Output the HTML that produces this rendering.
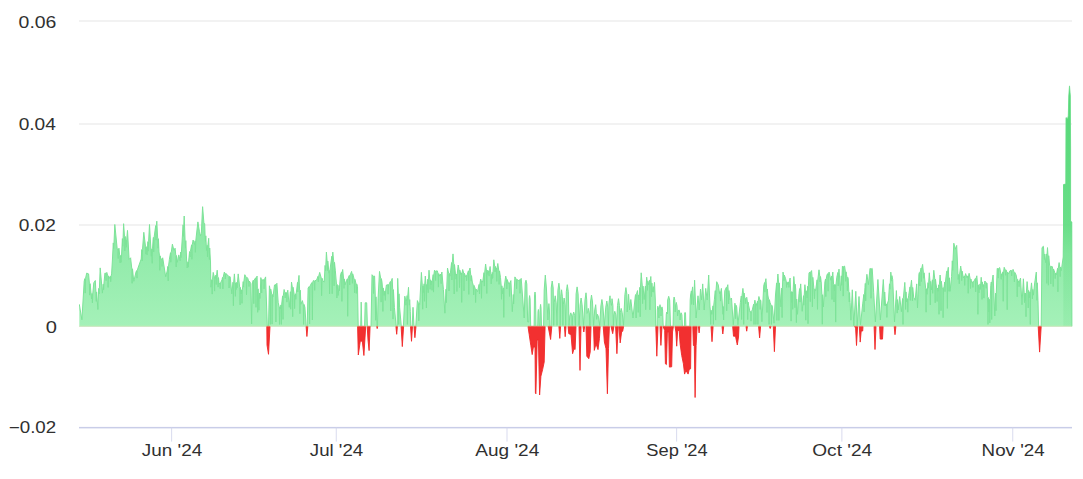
<!DOCTYPE html>
<html><head><meta charset="utf-8"><title>Chart</title>
<style>html,body{margin:0;padding:0;background:#fff}body{width:1083px;height:479px;overflow:hidden;font-family:"Liberation Sans",sans-serif}svg{display:block}</style>
</head><body>
<svg width="1083" height="479" viewBox="0 0 1083 479">
<defs>
<linearGradient id="gg" x1="0" y1="85" x2="0" y2="326.4" gradientUnits="userSpaceOnUse">
<stop offset="0" stop-color="#4fd873" stop-opacity="0.9"/>
<stop offset="0.55" stop-color="#7ce69a" stop-opacity="0.9"/>
<stop offset="1" stop-color="#a0f0b5" stop-opacity="0.95"/>
</linearGradient>
<linearGradient id="sp" x1="0" y1="85" x2="0" y2="326" gradientUnits="userSpaceOnUse">
<stop offset="0" stop-color="#48d46c" stop-opacity="0.55"/>
<stop offset="0.58" stop-color="#48d46c" stop-opacity="0.5"/>
<stop offset="0.7" stop-color="#48d46c" stop-opacity="0.26"/>
<stop offset="1" stop-color="#48d46c" stop-opacity="0.12"/>
</linearGradient>
<clipPath id="up"><rect x="79" y="0" width="994" height="326.9"/></clipPath>
</defs>
<rect width="1083" height="479" fill="#fff"/>
<rect x="79" y="20.5" width="993" height="1" fill="#e6e6e6"/>
<rect x="79" y="123.5" width="993" height="1" fill="#e6e6e6"/>
<rect x="79" y="224.5" width="993" height="1" fill="#e6e6e6"/>
<rect x="79" y="326" width="993" height="1" fill="#e6e6e6"/>
<g clip-path="url(#up)"><path d="M79.3,326.4 L79.3,304.3 81.9,319.8 84.2,281.3 84.8,278.6 85.2,293.1 85.5,278.6 86.7,273.1 88.6,273.9 89.4,283.6 89.7,295.1 90.1,283.6 91.6,299.0 92.1,293.4 92.4,302.9 92.8,293.4 93.8,282.8 95.3,280.5 95.9,291.9 96.3,301.4 96.6,291.9 97.9,309.5 98.7,288.4 99.1,293.9 99.4,288.4 100.2,267.9 102.4,293.1 103.2,284.2 103.6,289.7 103.9,284.2 104.9,273.1 105.7,273.2 106.1,280.7 106.4,273.2 106.8,272.4 107.8,275.9 108.1,287.4 108.5,275.9 109.4,278.3 110.4,276.2 110.7,281.7 111.1,276.2 111.6,273.9 112.3,262.0 113.3,242.9 113.6,248.4 114.0,242.9 114.8,224.5 117.2,248.9 117.8,249.0 118.2,258.5 118.5,249.0 119.0,248.2 119.7,255.4 120.1,262.9 120.4,255.4 121.2,262.3 122.4,238.6 122.7,246.1 123.1,238.6 123.6,223.7 124.5,236.4 124.8,250.9 125.2,236.4 125.7,244.5 126.0,239.7 126.4,247.2 126.7,239.7 127.5,230.4 129.1,259.3 130.6,257.8 131.8,268.8 132.1,283.3 132.5,268.8 133.1,275.0 133.8,281.3 136.0,272.0 136.6,270.6 137.0,278.1 137.3,270.6 138.0,268.0 141.2,259.0 141.8,249.5 142.2,261.0 142.5,249.5 143.8,232.3 145.5,246.6 145.9,254.1 146.2,246.6 147.2,254.9 147.9,241.6 148.2,251.1 148.6,241.6 149.5,224.5 151.3,256.3 151.8,248.8 152.2,263.3 152.5,248.8 153.1,240.0 153.4,237.4 153.7,251.9 154.1,237.4 155.7,225.6 156.0,240.1 156.4,225.6 156.8,221.2 157.7,238.7 158.0,248.2 158.4,238.7 159.0,251.9 159.5,255.8 159.8,270.3 160.2,255.8 160.8,259.3 161.7,258.9 162.0,266.4 162.4,258.9 162.7,257.8 165.7,276.8 167.2,271.0 167.8,266.4 168.2,280.9 168.5,266.4 169.4,259.3 170.5,252.7 170.8,262.2 171.2,252.7 172.4,244.2 173.9,250.4 175.1,248.2 175.8,255.5 176.2,267.0 176.5,255.5 177.3,262.3 178.8,254.9 180.2,260.8 180.7,252.1 181.0,257.6 181.4,252.1 183.1,224.8 183.5,236.3 183.8,224.8 184.2,216.0 185.1,240.6 185.5,248.1 185.8,240.6 186.9,266.7 187.2,267.9 187.9,261.7 188.2,267.2 188.6,261.7 189.4,253.4 189.7,251.5 190.1,257.0 190.4,251.5 191.6,244.8 191.9,259.3 192.3,244.8 193.1,240.0 194.6,244.5 195.1,240.8 195.4,252.3 195.8,240.8 196.3,236.0 197.9,221.9 199.4,231.3 200.5,235.8 201.3,233.6 202.6,206.7 203.9,223.0 204.7,223.7 205.1,235.8 205.5,241.3 205.8,235.8 206.5,250.4 207.2,245.3 207.5,256.8 207.9,245.3 208.7,238.3 209.0,248.0 209.4,259.5 209.7,248.0 210.5,262.0 210.9,287.2 211.8,279.6 212.2,294.1 212.5,279.6 213.2,272.4 214.2,276.6 214.6,291.1 214.9,276.6 215.4,278.3 215.9,275.0 216.2,284.5 216.6,275.0 217.2,270.2 217.8,277.6 218.1,287.1 218.5,277.6 219.1,284.2 219.8,283.1 220.2,288.6 220.5,283.1 222.0,279.8 222.5,277.4 222.9,288.9 223.2,277.4 224.3,272.1 225.0,273.5 225.3,279.0 225.7,273.5 227.2,274.6 228.8,276.5 229.1,288.0 229.5,276.5 230.2,276.8 231.8,293.9 233.0,282.2 233.4,305.7 233.7,282.2 234.4,273.9 235.0,282.8 235.4,296.3 235.7,282.8 236.2,289.5 236.8,282.3 237.2,287.8 237.5,282.3 238.2,273.9 239.7,287.4 240.1,304.9 240.4,287.4 241.1,294.0 241.7,289.8 242.0,303.3 242.4,289.8 243.2,281.6 243.6,287.1 243.9,281.6 244.8,274.7 246.2,277.3 246.5,294.8 246.9,277.3 247.8,278.4 248.6,281.0 249.0,286.5 249.3,281.0 250.8,283.6 251.6,324.0 252.3,284.0 253.0,280.6 253.4,280.2 253.8,303.7 254.1,280.2 255.6,277.8 256.0,307.3 256.3,277.8 257.1,276.1 257.4,288.8 257.7,312.3 258.1,288.8 258.9,310.2 259.6,293.0 259.9,298.5 260.3,293.0 260.8,277.6 261.3,279.4 261.7,292.9 262.0,279.4 262.9,280.6 263.8,279.4 264.1,288.9 264.5,279.4 265.6,276.9 267.3,326.4 268.5,326.4 269.4,285.8 270.0,289.1 270.3,324.4 270.7,289.1 271.8,294.6 272.1,324.1 272.5,294.6 273.0,296.9 274.5,285.0 275.6,284.5 275.9,322.0 276.3,284.5 276.9,283.3 278.2,302.8 279.2,306.9 279.5,324.4 279.9,306.9 280.4,308.8 280.9,304.9 281.3,324.4 281.6,304.9 282.6,295.9 283.0,319.4 283.3,295.9 284.1,289.5 284.8,292.5 285.2,298.0 285.5,292.5 286.0,293.9 286.5,292.6 286.9,302.1 287.2,292.6 287.8,290.2 289.3,307.3 290.4,291.7 290.7,309.2 291.1,291.7 291.5,282.1 292.3,287.2 292.7,316.7 293.0,287.2 294.3,295.1 294.6,308.6 295.0,295.1 295.2,296.9 295.5,293.8 295.8,299.3 296.2,293.8 297.5,282.4 297.8,291.9 298.2,282.4 299.0,275.4 299.6,290.2 299.9,313.7 300.3,290.2 300.9,304.3 302.4,300.6 303.3,304.4 303.6,324.4 304.0,304.4 304.9,307.3 306.2,326.4 307.2,326.4 308.1,288.0 309.2,286.5 309.6,324.0 309.9,286.5 310.8,284.3 312.0,282.5 312.4,320.0 312.7,282.5 313.3,280.6 314.3,280.8 314.7,290.3 315.0,280.8 316.7,279.8 318.0,276.3 318.3,281.8 318.7,276.3 319.7,272.4 321.3,278.2 321.6,295.7 322.0,278.2 322.7,280.6 324.2,282.0 325.1,265.4 325.5,270.9 325.8,265.4 326.4,252.1 327.1,261.1 327.4,270.6 327.8,261.1 329.0,273.2 329.2,270.4 329.6,293.9 329.9,270.4 331.8,256.2 332.2,293.7 332.5,256.2 332.8,252.1 333.8,262.3 334.1,285.8 334.5,262.3 335.3,270.2 336.5,284.5 336.9,298.0 337.2,284.5 338.2,295.4 339.0,285.3 339.4,290.8 339.7,285.3 340.5,274.7 341.6,271.9 341.9,301.4 342.3,271.9 342.7,269.5 343.6,278.9 344.0,288.4 344.3,278.9 344.9,285.0 346.4,280.6 347.4,278.8 347.7,316.3 348.1,278.8 348.6,276.9 349.3,275.4 349.7,284.9 350.0,275.4 351.6,271.4 352.0,273.8 352.4,283.3 352.7,273.8 354.2,279.3 354.6,292.8 354.9,279.3 355.3,280.6 356.0,283.9 356.3,293.4 356.7,283.9 357.5,286.5 358.2,326.4 360.7,326.4 361.2,302.1 361.8,326.4 364.6,326.4 365.2,302.8 366.7,302.8 367.4,326.4 371.0,326.4 372.0,274.7 373.1,276.0 373.5,293.5 373.8,276.0 374.6,276.1 375.3,296.8 375.7,320.3 376.0,296.8 376.4,310.0 377.0,326.4 377.5,326.4 378.0,300.0 379.5,271.4 380.7,278.6 381.1,302.1 381.4,278.6 382.0,282.1 382.5,287.9 382.9,311.4 383.2,287.9 384.2,295.4 384.9,290.9 385.3,300.4 385.6,290.9 386.4,285.0 387.8,284.7 388.1,294.2 388.5,284.7 389.4,283.6 390.4,281.5 390.8,311.0 391.1,281.5 392.2,278.4 392.7,289.6 393.0,319.1 393.4,289.6 394.4,307.3 396.2,326.4 397.2,326.4 397.7,278.4 398.3,293.8 398.7,324.4 399.0,293.8 399.6,307.3 401.3,326.4 403.4,326.4 404.8,296.2 405.6,299.7 405.9,305.2 406.3,299.7 406.6,301.0 407.1,295.6 407.4,324.4 407.8,295.6 408.5,287.3 409.0,299.6 409.4,305.1 409.7,299.6 410.3,311.7 410.8,326.4 412.2,326.4 413.0,307.3 414.0,326.4 415.8,326.4 417.4,300.6 418.5,303.4 418.8,320.9 419.2,303.4 419.7,304.3 421.4,272.4 422.3,285.7 422.7,309.2 423.0,285.7 423.4,292.4 424.1,283.8 424.5,301.3 424.8,283.8 425.3,276.1 426.0,284.5 426.4,308.0 426.7,284.5 427.1,289.5 427.8,279.2 428.2,292.7 428.5,279.2 429.0,270.2 429.8,279.8 430.1,289.3 430.5,279.8 430.8,285.0 431.6,280.8 432.0,290.3 432.3,280.8 433.2,274.6 433.5,292.1 433.9,274.6 434.5,270.2 435.2,271.0 435.6,280.5 435.9,271.0 437.4,270.9 438.0,273.6 438.4,287.1 438.7,273.6 439.7,276.1 440.7,274.1 441.1,283.6 441.4,274.1 441.9,272.0 443.4,289.5 444.9,313.2 446.0,289.2 446.3,302.7 446.7,289.2 447.5,268.0 448.7,273.5 449.0,291.0 449.4,273.5 450.0,276.1 451.6,262.5 451.9,280.0 452.3,262.5 453.0,253.9 453.8,264.5 454.2,294.0 454.5,264.5 456.0,279.1 456.5,274.0 456.9,291.5 457.2,274.0 458.2,265.0 459.1,270.1 459.5,287.6 459.8,270.1 460.9,274.7 461.4,272.9 461.7,302.4 462.1,272.9 462.7,269.5 463.7,273.3 464.0,290.8 464.4,273.3 465.6,276.9 466.3,275.3 466.6,280.8 467.0,275.3 468.4,270.9 468.8,294.4 469.1,270.9 470.0,268.0 470.8,275.6 471.2,281.1 471.5,275.6 472.3,282.1 473.3,285.4 473.7,294.9 474.0,285.4 474.5,286.5 475.3,289.0 475.6,302.5 476.0,289.0 477.5,291.7 479.1,284.4 479.5,293.9 479.8,284.4 480.7,279.1 481.1,280.8 481.5,298.3 481.8,280.8 482.7,282.1 484.0,272.6 484.3,286.1 484.7,272.6 485.6,264.0 486.4,270.0 486.8,293.5 487.1,270.0 487.9,274.7 488.8,270.6 489.1,276.1 489.5,270.6 490.1,266.5 490.9,274.4 491.2,283.9 491.6,274.4 492.0,279.1 492.3,272.4 492.7,277.9 493.0,272.4 493.8,259.8 494.7,266.4 495.1,271.9 495.4,266.4 496.0,270.2 496.4,267.9 496.8,281.4 497.1,267.9 497.8,263.5 498.8,270.9 499.1,284.4 499.5,270.9 500.5,277.6 501.2,285.8 501.5,299.3 501.9,285.8 502.7,293.9 503.4,287.9 503.8,317.4 504.1,287.9 505.7,276.1 506.5,279.5 506.8,289.0 507.2,279.5 508.6,283.6 509.2,282.9 509.5,296.4 509.9,282.9 510.9,280.6 512.3,311.7 513.3,294.5 513.6,304.0 514.0,294.5 514.9,276.9 516.3,279.3 516.6,288.8 517.0,279.3 518.3,280.6 519.7,279.8 520.0,293.3 520.4,279.8 521.2,278.4 524.2,318.0 525.2,283.0 526.0,280.2 526.8,284.0 527.7,322.0 528.7,322.0 529.2,299.0 529.6,295.6 530.1,299.0 530.7,326.4 534.1,326.4 534.5,296.0 535.0,292.0 535.5,296.0 536.0,326.4 537.7,326.4 538.0,312.0 538.4,309.5 538.8,312.0 539.3,326.4 539.8,326.4 540.2,308.0 540.6,304.4 541.0,308.0 541.5,326.4 543.6,326.4 544.2,290.0 545.3,275.1 546.4,288.0 547.2,305.0 547.9,320.0 548.4,310.0 548.9,303.6 549.4,310.0 550.0,326.4 551.2,326.4 551.2,288.0 552.2,281.0 553.2,288.0 553.7,325.5 554.2,302.8 555.2,295.8 556.2,302.8 557.0,325.5 557.9,290.2 558.9,283.2 559.8,290.2 560.2,325.5 560.7,296.8 561.6,289.8 562.4,296.8 562.9,325.5 563.3,304.9 564.1,298.0 565.1,304.9 565.7,325.5 566.3,291.7 567.3,284.7 568.3,291.7 569.0,325.5 569.8,316.0 570.8,312.8 571.8,316.0 572.2,325.5 572.7,315.5 573.7,312.1 574.7,315.5 575.4,325.5 576.1,293.9 577.1,286.9 578.1,293.9 579.1,325.5 580.1,304.9 581.1,298.0 582.1,304.9 583.5,325.5 585.0,299.8 586.0,292.8 586.7,299.8 587.1,313.4 587.6,312.7 588.3,308.4 589.3,312.7 589.9,325.5 590.5,302.0 591.5,295.0 592.5,302.0 593.6,325.5 594.7,309.9 595.7,304.7 596.1,309.9 596.6,319.3 597.1,317.1 597.5,314.3 598.5,317.1 599.7,325.5 600.9,306.0 601.9,299.5 602.9,306.0 604.3,325.5 605.8,307.1 606.8,301.0 607.8,307.1 608.4,325.5 609.0,302.8 610.0,295.8 610.5,302.8 611.0,303.7 611.5,305.4 612.0,298.7 612.9,305.4 613.4,325.5 613.9,314.9 614.8,311.3 615.8,314.9 616.6,325.5 617.5,305.4 618.5,298.7 619.4,305.4 619.9,325.5 620.3,312.7 621.2,308.4 622.2,312.7 623.5,325.5 624.9,294.6 625.9,287.6 626.9,294.6 627.2,312.0 628.6,294.3 629.6,310.0 630.8,299.5 633.0,318.0 635.3,295.8 635.7,294.5 636.1,318.0 636.4,294.5 637.5,290.6 637.8,294.9 638.2,312.4 638.5,294.9 639.2,300.0 639.8,287.3 640.2,316.8 640.5,287.3 641.2,272.8 642.3,286.1 642.6,303.6 643.0,286.1 644.2,299.5 645.4,286.2 645.7,309.7 646.1,286.2 646.7,277.2 647.1,280.8 647.5,290.3 647.8,280.8 648.6,284.7 649.6,280.3 649.9,309.8 650.3,280.3 650.8,276.5 651.2,283.1 651.5,296.6 651.9,283.1 652.6,292.0 653.4,286.7 653.7,292.2 654.1,286.7 654.5,282.4 655.3,300.0 655.7,326.4 657.0,326.4 657.3,310.0 657.8,306.2 658.6,309.0 658.9,318.0 659.3,308.0 660.0,304.7 660.7,308.0 661.0,316.0 661.4,309.0 662.0,306.9 662.6,310.0 663.2,326.4 665.8,326.4 666.3,314.0 666.8,312.0 667.4,314.0 667.7,300.0 668.7,296.3 669.7,300.0 670.5,326.4 673.1,326.4 673.5,301.0 674.1,297.0 674.8,300.0 675.2,312.0 675.6,305.0 676.3,302.4 677.0,306.0 677.6,316.0 678.3,311.0 679.0,309.9 679.7,312.0 680.1,320.0 680.6,314.0 681.2,312.8 681.9,315.0 682.4,326.4 684.4,326.4 684.7,313.0 685.1,312.4 685.5,313.0 685.9,326.4 689.8,326.4 690.2,300.0 690.6,295.0 691.4,290.9 691.7,304.4 692.1,290.9 692.6,286.9 693.6,305.0 694.6,280.2 696.1,318.0 698.0,295.8 699.2,310.0 700.5,289.1 701.6,300.0 702.7,283.9 704.2,310.0 705.7,288.4 707.2,300.0 708.7,275.0 710.0,306.9 710.3,310.1 710.7,324.4 711.0,310.1 711.8,314.3 713.0,305.8 713.4,324.4 713.7,305.8 714.4,299.5 715.3,290.6 715.6,320.1 716.0,290.6 716.7,281.7 718.2,284.7 719.6,293.6 720.1,291.6 720.5,301.1 720.8,291.6 721.4,288.4 723.0,314.3 723.3,306.5 723.6,320.0 724.0,306.5 724.8,290.6 726.4,287.3 726.7,310.8 727.1,287.3 727.8,284.7 728.2,290.5 728.6,304.0 728.9,290.5 730.0,299.5 731.5,298.0 733.3,324.7 734.9,303.2 735.3,305.2 735.6,318.7 736.0,305.2 736.7,306.9 737.9,324.7 740.4,302.4 741.3,296.0 741.6,319.5 742.0,296.0 742.9,288.4 743.4,293.0 743.7,324.4 744.1,293.0 744.8,298.0 745.3,298.2 745.7,303.7 746.0,298.2 746.8,297.3 747.4,302.1 747.7,319.6 748.1,302.1 748.6,305.4 750.0,312.1 750.7,311.6 751.0,321.1 751.4,311.6 752.3,309.9 753.6,304.2 754.0,324.4 754.3,304.2 754.9,300.2 755.5,303.5 755.9,324.4 756.2,303.5 756.7,305.4 757.5,301.2 757.9,324.4 758.2,301.2 758.9,296.5 759.8,299.9 760.2,309.4 760.5,299.9 760.9,301.0 761.9,321.7 763.7,286.1 764.5,282.6 764.9,292.1 765.2,282.6 765.9,278.7 766.7,289.0 767.0,312.5 767.4,289.0 767.8,295.0 768.7,299.7 769.1,324.4 769.4,299.7 770.0,302.4 771.1,305.3 771.4,324.4 771.8,305.3 772.3,306.2 774.0,323.2 775.5,295.0 776.6,282.9 776.9,320.4 777.3,282.9 777.9,274.0 778.6,282.9 778.9,320.4 779.3,282.9 779.7,289.1 780.9,306.9 781.7,288.1 782.1,317.6 782.4,288.1 783.0,272.1 783.6,275.1 784.0,280.6 784.3,275.1 785.6,278.7 786.3,281.9 786.6,287.4 787.0,281.9 787.8,284.7 788.6,281.9 788.9,287.4 789.3,281.9 790.1,278.0 790.7,291.6 791.1,321.1 791.4,291.6 791.9,302.4 792.4,291.8 792.7,309.3 793.1,291.8 793.8,276.5 794.5,284.2 794.9,307.7 795.2,284.2 795.7,289.1 796.0,299.1 796.4,322.6 796.7,299.1 797.5,314.3 799.0,293.6 799.6,288.6 800.0,302.1 800.3,288.6 800.7,283.9 802.2,311.3 803.5,295.7 803.8,305.2 804.2,295.7 804.9,284.7 805.5,290.7 805.8,320.2 806.2,290.7 807.1,298.0 807.7,286.2 808.0,323.7 808.4,286.2 809.0,272.8 809.9,272.2 810.3,301.7 810.6,272.2 811.6,270.6 812.1,277.3 812.4,306.8 812.8,277.3 813.8,287.6 814.1,289.2 814.5,298.7 814.8,289.2 815.6,290.6 817.1,279.8 817.5,309.3 817.8,279.8 819.0,269.8 819.8,276.5 820.1,282.0 820.5,276.5 821.2,281.7 821.9,294.7 822.3,324.2 822.6,294.7 823.4,306.9 824.9,281.7 825.5,279.1 825.8,296.6 826.2,279.1 827.1,274.3 827.8,273.7 828.1,291.2 828.5,273.7 829.1,272.1 830.8,280.2 831.6,276.0 832.0,299.5 832.3,276.0 832.8,272.1 833.6,284.5 834.0,302.0 834.3,284.5 834.6,290.6 835.3,284.6 835.7,322.1 836.0,284.6 836.8,277.2 837.9,272.4 838.2,285.9 838.6,272.4 839.0,269.1 840.5,290.6 841.3,275.8 841.7,285.3 842.0,275.8 842.4,266.1 842.9,266.6 843.2,296.1 843.6,266.6 844.6,266.1 845.4,271.8 845.7,281.3 846.1,271.8 846.4,274.3 847.0,277.2 847.4,290.7 847.7,277.2 848.2,278.7 848.9,292.5 849.3,302.0 849.6,292.5 850.1,302.4 850.9,320.2 852.3,289.8 853.8,326.0 855.8,291.3 857.2,326.0 859.0,296.5 860.5,324.7 862.7,303.9 863.8,294.4 864.1,311.9 864.5,294.4 865.0,287.6 865.3,283.4 865.7,300.9 866.0,283.4 866.9,274.3 868.4,284.7 870.0,268.3 870.7,268.8 871.0,298.3 871.4,268.8 872.2,268.4 873.7,292.8 875.4,322.0 877.9,279.5 880.4,320.0 883.3,279.5 884.0,292.0 884.3,305.5 884.7,292.0 885.6,306.0 886.6,303.9 886.9,317.4 887.3,303.9 888.5,300.2 889.5,283.8 889.9,289.3 890.2,283.8 890.8,272.1 891.2,275.6 891.6,281.1 891.9,275.6 892.7,279.5 894.5,322.0 896.4,290.6 896.8,299.6 897.2,313.1 897.5,299.6 898.2,310.0 899.7,296.5 901.4,311.7 902.6,298.5 903.0,324.4 903.3,298.5 904.8,282.4 905.3,291.9 905.6,309.4 906.0,291.9 906.6,302.0 907.5,298.7 907.8,312.2 908.2,298.7 908.6,295.8 910.0,286.9 910.3,300.4 910.7,286.9 911.5,280.2 912.0,287.4 912.4,300.9 912.7,287.4 913.7,297.3 915.2,300.2 916.7,283.9 917.5,308.0 918.9,274.3 919.4,272.5 919.8,286.0 920.1,272.5 921.1,268.0 921.4,281.5 921.8,268.0 922.6,264.4 923.4,272.8 923.7,278.3 924.1,272.8 924.9,281.0 925.7,288.7 926.1,312.2 926.4,288.7 927.1,294.3 928.0,282.6 928.3,288.1 928.7,282.6 929.3,272.8 930.0,281.4 930.3,304.9 930.7,281.4 931.5,289.9 932.4,279.8 932.7,293.3 933.1,279.8 933.8,270.3 934.8,279.3 935.2,302.8 935.5,279.3 936.0,283.9 936.7,288.0 937.1,301.5 937.4,288.0 938.2,291.3 938.7,284.8 939.0,314.3 939.4,284.8 940.1,275.0 940.6,281.2 941.0,310.7 941.3,281.2 942.2,288.4 942.8,288.2 943.1,317.7 943.5,288.2 944.1,286.9 944.7,282.1 945.0,291.6 945.4,282.1 946.4,273.6 947.0,270.9 947.4,308.4 947.7,270.9 948.3,267.3 948.7,277.8 949.0,291.3 949.4,277.8 950.1,291.3 951.6,276.5 952.3,260.8 952.7,270.3 953.0,260.8 953.8,243.2 955.3,249.1 956.7,245.4 958.2,279.5 958.9,274.3 959.3,283.8 959.6,274.3 960.7,266.1 961.4,271.1 961.7,280.6 962.1,271.1 963.4,278.0 964.4,275.9 964.7,285.4 965.1,275.9 965.6,273.6 967.1,278.0 967.9,275.8 968.2,293.3 968.6,275.8 969.1,273.3 970.2,279.0 970.5,288.5 970.9,279.0 971.6,282.4 972.6,281.9 972.9,287.4 973.3,281.9 974.5,280.2 975.4,278.4 975.7,291.9 976.1,278.4 976.8,275.8 977.6,284.8 977.9,314.3 978.3,284.8 979.0,292.8 980.0,283.9 980.3,289.4 980.7,283.9 981.2,277.3 981.6,281.9 982.0,299.4 982.3,281.9 983.0,286.9 983.6,284.6 983.9,298.1 984.3,284.6 984.9,281.0 985.9,282.8 986.2,288.3 986.6,282.8 987.1,283.2 987.6,297.5 988.0,324.4 988.3,297.5 988.9,312.0 989.5,299.4 989.8,322.9 990.2,299.4 990.8,285.4 991.3,282.0 991.7,319.5 992.0,282.0 993.1,275.0 994.8,316.0 995.6,293.2 996.0,310.7 996.3,293.2 997.2,268.4 997.8,268.6 998.2,278.1 998.5,268.6 999.7,267.6 1000.8,273.8 1001.2,279.3 1001.5,273.8 1002.0,276.5 1002.9,271.8 1003.2,301.3 1003.6,271.8 1004.2,267.3 1005.2,269.8 1005.6,275.3 1005.9,269.8 1006.4,270.6 1006.8,272.2 1007.2,309.7 1007.5,272.2 1008.6,273.6 1010.1,270.6 1011.3,270.5 1011.7,276.0 1012.0,270.5 1013.1,269.4 1014.1,272.4 1014.4,281.9 1014.8,272.4 1016.1,275.0 1016.9,279.3 1017.2,296.8 1017.6,279.3 1018.3,282.4 1018.8,281.2 1019.1,286.7 1019.5,281.2 1020.5,278.0 1022.0,304.7 1023.4,278.8 1024.2,293.1 1024.5,302.6 1024.9,293.1 1025.2,300.6 1025.6,293.2 1026.0,316.7 1026.3,293.2 1027.1,281.6 1027.9,290.4 1028.2,307.9 1028.6,290.4 1029.3,297.8 1029.9,291.7 1030.3,324.4 1030.6,291.7 1031.5,282.9 1032.1,289.4 1032.4,298.9 1032.8,289.4 1033.4,295.1 1034.7,282.9 1036.3,272.1 1036.6,282.8 1036.9,300.3 1037.3,282.8 1038.0,300.6 1038.6,326.4 1041.2,326.4 1042.0,247.6 1043.4,246.3 1044.0,254.0 1044.4,259.5 1044.7,254.0 1045.6,262.6 1046.4,253.9 1046.8,283.4 1047.1,253.9 1047.5,247.6 1048.0,255.7 1048.4,285.2 1048.7,255.7 1049.6,265.3 1050.5,266.4 1050.8,283.9 1051.2,266.4 1052.3,266.6 1052.8,269.0 1053.2,286.5 1053.5,269.0 1054.2,270.7 1054.9,273.1 1055.2,278.6 1055.6,273.1 1056.4,274.8 1057.6,268.3 1057.9,291.8 1058.3,268.3 1059.1,262.6 1059.8,267.1 1060.2,276.6 1060.5,267.1 1061.3,270.7 1063.2,257.0 1063.5,229.0 1063.5,184.6 1065.8,184.0 1066.0,117.6 1067.5,119.0 1068.3,116.0 1068.8,96.0 1069.5,85.9 1070.3,96.0 1070.6,150.0 1070.6,221.0 1071.8,222.0 1071.9,326.4 L1071.9,326.4 Z" fill="url(#gg)"/>
<path d="M79.3,304.3 L81.9,319.8 84.2,281.3 84.8,278.6 85.2,293.1 85.5,278.6 86.7,273.1 88.6,273.9 89.4,283.6 89.7,295.1 90.1,283.6 91.6,299.0 92.1,293.4 92.4,302.9 92.8,293.4 93.8,282.8 95.3,280.5 95.9,291.9 96.3,301.4 96.6,291.9 97.9,309.5 98.7,288.4 99.1,293.9 99.4,288.4 100.2,267.9 102.4,293.1 103.2,284.2 103.6,289.7 103.9,284.2 104.9,273.1 105.7,273.2 106.1,280.7 106.4,273.2 106.8,272.4 107.8,275.9 108.1,287.4 108.5,275.9 109.4,278.3 110.4,276.2 110.7,281.7 111.1,276.2 111.6,273.9 112.3,262.0 113.3,242.9 113.6,248.4 114.0,242.9 114.8,224.5 117.2,248.9 117.8,249.0 118.2,258.5 118.5,249.0 119.0,248.2 119.7,255.4 120.1,262.9 120.4,255.4 121.2,262.3 122.4,238.6 122.7,246.1 123.1,238.6 123.6,223.7 124.5,236.4 124.8,250.9 125.2,236.4 125.7,244.5 126.0,239.7 126.4,247.2 126.7,239.7 127.5,230.4 129.1,259.3 130.6,257.8 131.8,268.8 132.1,283.3 132.5,268.8 133.1,275.0 133.8,281.3 136.0,272.0 136.6,270.6 137.0,278.1 137.3,270.6 138.0,268.0 141.2,259.0 141.8,249.5 142.2,261.0 142.5,249.5 143.8,232.3 145.5,246.6 145.9,254.1 146.2,246.6 147.2,254.9 147.9,241.6 148.2,251.1 148.6,241.6 149.5,224.5 151.3,256.3 151.8,248.8 152.2,263.3 152.5,248.8 153.1,240.0 153.4,237.4 153.7,251.9 154.1,237.4 155.7,225.6 156.0,240.1 156.4,225.6 156.8,221.2 157.7,238.7 158.0,248.2 158.4,238.7 159.0,251.9 159.5,255.8 159.8,270.3 160.2,255.8 160.8,259.3 161.7,258.9 162.0,266.4 162.4,258.9 162.7,257.8 165.7,276.8 167.2,271.0 167.8,266.4 168.2,280.9 168.5,266.4 169.4,259.3 170.5,252.7 170.8,262.2 171.2,252.7 172.4,244.2 173.9,250.4 175.1,248.2 175.8,255.5 176.2,267.0 176.5,255.5 177.3,262.3 178.8,254.9 180.2,260.8 180.7,252.1 181.0,257.6 181.4,252.1 183.1,224.8 183.5,236.3 183.8,224.8 184.2,216.0 185.1,240.6 185.5,248.1 185.8,240.6 186.9,266.7 187.2,267.9 187.9,261.7 188.2,267.2 188.6,261.7 189.4,253.4 189.7,251.5 190.1,257.0 190.4,251.5 191.6,244.8 191.9,259.3 192.3,244.8 193.1,240.0 194.6,244.5 195.1,240.8 195.4,252.3 195.8,240.8 196.3,236.0 197.9,221.9 199.4,231.3 200.5,235.8 201.3,233.6 202.6,206.7 203.9,223.0 204.7,223.7 205.1,235.8 205.5,241.3 205.8,235.8 206.5,250.4 207.2,245.3 207.5,256.8 207.9,245.3 208.7,238.3 209.0,248.0 209.4,259.5 209.7,248.0 210.5,262.0 210.9,287.2 211.8,279.6 212.2,294.1 212.5,279.6 213.2,272.4 214.2,276.6 214.6,291.1 214.9,276.6 215.4,278.3 215.9,275.0 216.2,284.5 216.6,275.0 217.2,270.2 217.8,277.6 218.1,287.1 218.5,277.6 219.1,284.2 219.8,283.1 220.2,288.6 220.5,283.1 222.0,279.8 222.5,277.4 222.9,288.9 223.2,277.4 224.3,272.1 225.0,273.5 225.3,279.0 225.7,273.5 227.2,274.6 228.8,276.5 229.1,288.0 229.5,276.5 230.2,276.8 231.8,293.9 233.0,282.2 233.4,305.7 233.7,282.2 234.4,273.9 235.0,282.8 235.4,296.3 235.7,282.8 236.2,289.5 236.8,282.3 237.2,287.8 237.5,282.3 238.2,273.9 239.7,287.4 240.1,304.9 240.4,287.4 241.1,294.0 241.7,289.8 242.0,303.3 242.4,289.8 243.2,281.6 243.6,287.1 243.9,281.6 244.8,274.7 246.2,277.3 246.5,294.8 246.9,277.3 247.8,278.4 248.6,281.0 249.0,286.5 249.3,281.0 250.8,283.6 251.6,324.0 252.3,284.0 253.0,280.6 253.4,280.2 253.8,303.7 254.1,280.2 255.6,277.8 256.0,307.3 256.3,277.8 257.1,276.1 257.4,288.8 257.7,312.3 258.1,288.8 258.9,310.2 259.6,293.0 259.9,298.5 260.3,293.0 260.8,277.6 261.3,279.4 261.7,292.9 262.0,279.4 262.9,280.6 263.8,279.4 264.1,288.9 264.5,279.4 265.6,276.9 267.3,326.4 268.5,326.4 269.4,285.8 270.0,289.1 270.3,324.4 270.7,289.1 271.8,294.6 272.1,324.1 272.5,294.6 273.0,296.9 274.5,285.0 275.6,284.5 275.9,322.0 276.3,284.5 276.9,283.3 278.2,302.8 279.2,306.9 279.5,324.4 279.9,306.9 280.4,308.8 280.9,304.9 281.3,324.4 281.6,304.9 282.6,295.9 283.0,319.4 283.3,295.9 284.1,289.5 284.8,292.5 285.2,298.0 285.5,292.5 286.0,293.9 286.5,292.6 286.9,302.1 287.2,292.6 287.8,290.2 289.3,307.3 290.4,291.7 290.7,309.2 291.1,291.7 291.5,282.1 292.3,287.2 292.7,316.7 293.0,287.2 294.3,295.1 294.6,308.6 295.0,295.1 295.2,296.9 295.5,293.8 295.8,299.3 296.2,293.8 297.5,282.4 297.8,291.9 298.2,282.4 299.0,275.4 299.6,290.2 299.9,313.7 300.3,290.2 300.9,304.3 302.4,300.6 303.3,304.4 303.6,324.4 304.0,304.4 304.9,307.3 306.2,326.4 307.2,326.4 308.1,288.0 309.2,286.5 309.6,324.0 309.9,286.5 310.8,284.3 312.0,282.5 312.4,320.0 312.7,282.5 313.3,280.6 314.3,280.8 314.7,290.3 315.0,280.8 316.7,279.8 318.0,276.3 318.3,281.8 318.7,276.3 319.7,272.4 321.3,278.2 321.6,295.7 322.0,278.2 322.7,280.6 324.2,282.0 325.1,265.4 325.5,270.9 325.8,265.4 326.4,252.1 327.1,261.1 327.4,270.6 327.8,261.1 329.0,273.2 329.2,270.4 329.6,293.9 329.9,270.4 331.8,256.2 332.2,293.7 332.5,256.2 332.8,252.1 333.8,262.3 334.1,285.8 334.5,262.3 335.3,270.2 336.5,284.5 336.9,298.0 337.2,284.5 338.2,295.4 339.0,285.3 339.4,290.8 339.7,285.3 340.5,274.7 341.6,271.9 341.9,301.4 342.3,271.9 342.7,269.5 343.6,278.9 344.0,288.4 344.3,278.9 344.9,285.0 346.4,280.6 347.4,278.8 347.7,316.3 348.1,278.8 348.6,276.9 349.3,275.4 349.7,284.9 350.0,275.4 351.6,271.4 352.0,273.8 352.4,283.3 352.7,273.8 354.2,279.3 354.6,292.8 354.9,279.3 355.3,280.6 356.0,283.9 356.3,293.4 356.7,283.9 357.5,286.5 358.2,326.4 360.7,326.4 361.2,302.1 361.8,326.4 364.6,326.4 365.2,302.8 366.7,302.8 367.4,326.4 371.0,326.4 372.0,274.7 373.1,276.0 373.5,293.5 373.8,276.0 374.6,276.1 375.3,296.8 375.7,320.3 376.0,296.8 376.4,310.0 377.0,326.4 377.5,326.4 378.0,300.0 379.5,271.4 380.7,278.6 381.1,302.1 381.4,278.6 382.0,282.1 382.5,287.9 382.9,311.4 383.2,287.9 384.2,295.4 384.9,290.9 385.3,300.4 385.6,290.9 386.4,285.0 387.8,284.7 388.1,294.2 388.5,284.7 389.4,283.6 390.4,281.5 390.8,311.0 391.1,281.5 392.2,278.4 392.7,289.6 393.0,319.1 393.4,289.6 394.4,307.3 396.2,326.4 397.2,326.4 397.7,278.4 398.3,293.8 398.7,324.4 399.0,293.8 399.6,307.3 401.3,326.4 403.4,326.4 404.8,296.2 405.6,299.7 405.9,305.2 406.3,299.7 406.6,301.0 407.1,295.6 407.4,324.4 407.8,295.6 408.5,287.3 409.0,299.6 409.4,305.1 409.7,299.6 410.3,311.7 410.8,326.4 412.2,326.4 413.0,307.3 414.0,326.4 415.8,326.4 417.4,300.6 418.5,303.4 418.8,320.9 419.2,303.4 419.7,304.3 421.4,272.4 422.3,285.7 422.7,309.2 423.0,285.7 423.4,292.4 424.1,283.8 424.5,301.3 424.8,283.8 425.3,276.1 426.0,284.5 426.4,308.0 426.7,284.5 427.1,289.5 427.8,279.2 428.2,292.7 428.5,279.2 429.0,270.2 429.8,279.8 430.1,289.3 430.5,279.8 430.8,285.0 431.6,280.8 432.0,290.3 432.3,280.8 433.2,274.6 433.5,292.1 433.9,274.6 434.5,270.2 435.2,271.0 435.6,280.5 435.9,271.0 437.4,270.9 438.0,273.6 438.4,287.1 438.7,273.6 439.7,276.1 440.7,274.1 441.1,283.6 441.4,274.1 441.9,272.0 443.4,289.5 444.9,313.2 446.0,289.2 446.3,302.7 446.7,289.2 447.5,268.0 448.7,273.5 449.0,291.0 449.4,273.5 450.0,276.1 451.6,262.5 451.9,280.0 452.3,262.5 453.0,253.9 453.8,264.5 454.2,294.0 454.5,264.5 456.0,279.1 456.5,274.0 456.9,291.5 457.2,274.0 458.2,265.0 459.1,270.1 459.5,287.6 459.8,270.1 460.9,274.7 461.4,272.9 461.7,302.4 462.1,272.9 462.7,269.5 463.7,273.3 464.0,290.8 464.4,273.3 465.6,276.9 466.3,275.3 466.6,280.8 467.0,275.3 468.4,270.9 468.8,294.4 469.1,270.9 470.0,268.0 470.8,275.6 471.2,281.1 471.5,275.6 472.3,282.1 473.3,285.4 473.7,294.9 474.0,285.4 474.5,286.5 475.3,289.0 475.6,302.5 476.0,289.0 477.5,291.7 479.1,284.4 479.5,293.9 479.8,284.4 480.7,279.1 481.1,280.8 481.5,298.3 481.8,280.8 482.7,282.1 484.0,272.6 484.3,286.1 484.7,272.6 485.6,264.0 486.4,270.0 486.8,293.5 487.1,270.0 487.9,274.7 488.8,270.6 489.1,276.1 489.5,270.6 490.1,266.5 490.9,274.4 491.2,283.9 491.6,274.4 492.0,279.1 492.3,272.4 492.7,277.9 493.0,272.4 493.8,259.8 494.7,266.4 495.1,271.9 495.4,266.4 496.0,270.2 496.4,267.9 496.8,281.4 497.1,267.9 497.8,263.5 498.8,270.9 499.1,284.4 499.5,270.9 500.5,277.6 501.2,285.8 501.5,299.3 501.9,285.8 502.7,293.9 503.4,287.9 503.8,317.4 504.1,287.9 505.7,276.1 506.5,279.5 506.8,289.0 507.2,279.5 508.6,283.6 509.2,282.9 509.5,296.4 509.9,282.9 510.9,280.6 512.3,311.7 513.3,294.5 513.6,304.0 514.0,294.5 514.9,276.9 516.3,279.3 516.6,288.8 517.0,279.3 518.3,280.6 519.7,279.8 520.0,293.3 520.4,279.8 521.2,278.4 524.2,318.0 525.2,283.0 526.0,280.2 526.8,284.0 527.7,322.0 528.7,322.0 529.2,299.0 529.6,295.6 530.1,299.0 530.7,326.4 534.1,326.4 534.5,296.0 535.0,292.0 535.5,296.0 536.0,326.4 537.7,326.4 538.0,312.0 538.4,309.5 538.8,312.0 539.3,326.4 539.8,326.4 540.2,308.0 540.6,304.4 541.0,308.0 541.5,326.4 543.6,326.4 544.2,290.0 545.3,275.1 546.4,288.0 547.2,305.0 547.9,320.0 548.4,310.0 548.9,303.6 549.4,310.0 550.0,326.4 551.2,326.4 551.2,288.0 552.2,281.0 553.2,288.0 553.7,325.5 554.2,302.8 555.2,295.8 556.2,302.8 557.0,325.5 557.9,290.2 558.9,283.2 559.8,290.2 560.2,325.5 560.7,296.8 561.6,289.8 562.4,296.8 562.9,325.5 563.3,304.9 564.1,298.0 565.1,304.9 565.7,325.5 566.3,291.7 567.3,284.7 568.3,291.7 569.0,325.5 569.8,316.0 570.8,312.8 571.8,316.0 572.2,325.5 572.7,315.5 573.7,312.1 574.7,315.5 575.4,325.5 576.1,293.9 577.1,286.9 578.1,293.9 579.1,325.5 580.1,304.9 581.1,298.0 582.1,304.9 583.5,325.5 585.0,299.8 586.0,292.8 586.7,299.8 587.1,313.4 587.6,312.7 588.3,308.4 589.3,312.7 589.9,325.5 590.5,302.0 591.5,295.0 592.5,302.0 593.6,325.5 594.7,309.9 595.7,304.7 596.1,309.9 596.6,319.3 597.1,317.1 597.5,314.3 598.5,317.1 599.7,325.5 600.9,306.0 601.9,299.5 602.9,306.0 604.3,325.5 605.8,307.1 606.8,301.0 607.8,307.1 608.4,325.5 609.0,302.8 610.0,295.8 610.5,302.8 611.0,303.7 611.5,305.4 612.0,298.7 612.9,305.4 613.4,325.5 613.9,314.9 614.8,311.3 615.8,314.9 616.6,325.5 617.5,305.4 618.5,298.7 619.4,305.4 619.9,325.5 620.3,312.7 621.2,308.4 622.2,312.7 623.5,325.5 624.9,294.6 625.9,287.6 626.9,294.6 627.2,312.0 628.6,294.3 629.6,310.0 630.8,299.5 633.0,318.0 635.3,295.8 635.7,294.5 636.1,318.0 636.4,294.5 637.5,290.6 637.8,294.9 638.2,312.4 638.5,294.9 639.2,300.0 639.8,287.3 640.2,316.8 640.5,287.3 641.2,272.8 642.3,286.1 642.6,303.6 643.0,286.1 644.2,299.5 645.4,286.2 645.7,309.7 646.1,286.2 646.7,277.2 647.1,280.8 647.5,290.3 647.8,280.8 648.6,284.7 649.6,280.3 649.9,309.8 650.3,280.3 650.8,276.5 651.2,283.1 651.5,296.6 651.9,283.1 652.6,292.0 653.4,286.7 653.7,292.2 654.1,286.7 654.5,282.4 655.3,300.0 655.7,326.4 657.0,326.4 657.3,310.0 657.8,306.2 658.6,309.0 658.9,318.0 659.3,308.0 660.0,304.7 660.7,308.0 661.0,316.0 661.4,309.0 662.0,306.9 662.6,310.0 663.2,326.4 665.8,326.4 666.3,314.0 666.8,312.0 667.4,314.0 667.7,300.0 668.7,296.3 669.7,300.0 670.5,326.4 673.1,326.4 673.5,301.0 674.1,297.0 674.8,300.0 675.2,312.0 675.6,305.0 676.3,302.4 677.0,306.0 677.6,316.0 678.3,311.0 679.0,309.9 679.7,312.0 680.1,320.0 680.6,314.0 681.2,312.8 681.9,315.0 682.4,326.4 684.4,326.4 684.7,313.0 685.1,312.4 685.5,313.0 685.9,326.4 689.8,326.4 690.2,300.0 690.6,295.0 691.4,290.9 691.7,304.4 692.1,290.9 692.6,286.9 693.6,305.0 694.6,280.2 696.1,318.0 698.0,295.8 699.2,310.0 700.5,289.1 701.6,300.0 702.7,283.9 704.2,310.0 705.7,288.4 707.2,300.0 708.7,275.0 710.0,306.9 710.3,310.1 710.7,324.4 711.0,310.1 711.8,314.3 713.0,305.8 713.4,324.4 713.7,305.8 714.4,299.5 715.3,290.6 715.6,320.1 716.0,290.6 716.7,281.7 718.2,284.7 719.6,293.6 720.1,291.6 720.5,301.1 720.8,291.6 721.4,288.4 723.0,314.3 723.3,306.5 723.6,320.0 724.0,306.5 724.8,290.6 726.4,287.3 726.7,310.8 727.1,287.3 727.8,284.7 728.2,290.5 728.6,304.0 728.9,290.5 730.0,299.5 731.5,298.0 733.3,324.7 734.9,303.2 735.3,305.2 735.6,318.7 736.0,305.2 736.7,306.9 737.9,324.7 740.4,302.4 741.3,296.0 741.6,319.5 742.0,296.0 742.9,288.4 743.4,293.0 743.7,324.4 744.1,293.0 744.8,298.0 745.3,298.2 745.7,303.7 746.0,298.2 746.8,297.3 747.4,302.1 747.7,319.6 748.1,302.1 748.6,305.4 750.0,312.1 750.7,311.6 751.0,321.1 751.4,311.6 752.3,309.9 753.6,304.2 754.0,324.4 754.3,304.2 754.9,300.2 755.5,303.5 755.9,324.4 756.2,303.5 756.7,305.4 757.5,301.2 757.9,324.4 758.2,301.2 758.9,296.5 759.8,299.9 760.2,309.4 760.5,299.9 760.9,301.0 761.9,321.7 763.7,286.1 764.5,282.6 764.9,292.1 765.2,282.6 765.9,278.7 766.7,289.0 767.0,312.5 767.4,289.0 767.8,295.0 768.7,299.7 769.1,324.4 769.4,299.7 770.0,302.4 771.1,305.3 771.4,324.4 771.8,305.3 772.3,306.2 774.0,323.2 775.5,295.0 776.6,282.9 776.9,320.4 777.3,282.9 777.9,274.0 778.6,282.9 778.9,320.4 779.3,282.9 779.7,289.1 780.9,306.9 781.7,288.1 782.1,317.6 782.4,288.1 783.0,272.1 783.6,275.1 784.0,280.6 784.3,275.1 785.6,278.7 786.3,281.9 786.6,287.4 787.0,281.9 787.8,284.7 788.6,281.9 788.9,287.4 789.3,281.9 790.1,278.0 790.7,291.6 791.1,321.1 791.4,291.6 791.9,302.4 792.4,291.8 792.7,309.3 793.1,291.8 793.8,276.5 794.5,284.2 794.9,307.7 795.2,284.2 795.7,289.1 796.0,299.1 796.4,322.6 796.7,299.1 797.5,314.3 799.0,293.6 799.6,288.6 800.0,302.1 800.3,288.6 800.7,283.9 802.2,311.3 803.5,295.7 803.8,305.2 804.2,295.7 804.9,284.7 805.5,290.7 805.8,320.2 806.2,290.7 807.1,298.0 807.7,286.2 808.0,323.7 808.4,286.2 809.0,272.8 809.9,272.2 810.3,301.7 810.6,272.2 811.6,270.6 812.1,277.3 812.4,306.8 812.8,277.3 813.8,287.6 814.1,289.2 814.5,298.7 814.8,289.2 815.6,290.6 817.1,279.8 817.5,309.3 817.8,279.8 819.0,269.8 819.8,276.5 820.1,282.0 820.5,276.5 821.2,281.7 821.9,294.7 822.3,324.2 822.6,294.7 823.4,306.9 824.9,281.7 825.5,279.1 825.8,296.6 826.2,279.1 827.1,274.3 827.8,273.7 828.1,291.2 828.5,273.7 829.1,272.1 830.8,280.2 831.6,276.0 832.0,299.5 832.3,276.0 832.8,272.1 833.6,284.5 834.0,302.0 834.3,284.5 834.6,290.6 835.3,284.6 835.7,322.1 836.0,284.6 836.8,277.2 837.9,272.4 838.2,285.9 838.6,272.4 839.0,269.1 840.5,290.6 841.3,275.8 841.7,285.3 842.0,275.8 842.4,266.1 842.9,266.6 843.2,296.1 843.6,266.6 844.6,266.1 845.4,271.8 845.7,281.3 846.1,271.8 846.4,274.3 847.0,277.2 847.4,290.7 847.7,277.2 848.2,278.7 848.9,292.5 849.3,302.0 849.6,292.5 850.1,302.4 850.9,320.2 852.3,289.8 853.8,326.0 855.8,291.3 857.2,326.0 859.0,296.5 860.5,324.7 862.7,303.9 863.8,294.4 864.1,311.9 864.5,294.4 865.0,287.6 865.3,283.4 865.7,300.9 866.0,283.4 866.9,274.3 868.4,284.7 870.0,268.3 870.7,268.8 871.0,298.3 871.4,268.8 872.2,268.4 873.7,292.8 875.4,322.0 877.9,279.5 880.4,320.0 883.3,279.5 884.0,292.0 884.3,305.5 884.7,292.0 885.6,306.0 886.6,303.9 886.9,317.4 887.3,303.9 888.5,300.2 889.5,283.8 889.9,289.3 890.2,283.8 890.8,272.1 891.2,275.6 891.6,281.1 891.9,275.6 892.7,279.5 894.5,322.0 896.4,290.6 896.8,299.6 897.2,313.1 897.5,299.6 898.2,310.0 899.7,296.5 901.4,311.7 902.6,298.5 903.0,324.4 903.3,298.5 904.8,282.4 905.3,291.9 905.6,309.4 906.0,291.9 906.6,302.0 907.5,298.7 907.8,312.2 908.2,298.7 908.6,295.8 910.0,286.9 910.3,300.4 910.7,286.9 911.5,280.2 912.0,287.4 912.4,300.9 912.7,287.4 913.7,297.3 915.2,300.2 916.7,283.9 917.5,308.0 918.9,274.3 919.4,272.5 919.8,286.0 920.1,272.5 921.1,268.0 921.4,281.5 921.8,268.0 922.6,264.4 923.4,272.8 923.7,278.3 924.1,272.8 924.9,281.0 925.7,288.7 926.1,312.2 926.4,288.7 927.1,294.3 928.0,282.6 928.3,288.1 928.7,282.6 929.3,272.8 930.0,281.4 930.3,304.9 930.7,281.4 931.5,289.9 932.4,279.8 932.7,293.3 933.1,279.8 933.8,270.3 934.8,279.3 935.2,302.8 935.5,279.3 936.0,283.9 936.7,288.0 937.1,301.5 937.4,288.0 938.2,291.3 938.7,284.8 939.0,314.3 939.4,284.8 940.1,275.0 940.6,281.2 941.0,310.7 941.3,281.2 942.2,288.4 942.8,288.2 943.1,317.7 943.5,288.2 944.1,286.9 944.7,282.1 945.0,291.6 945.4,282.1 946.4,273.6 947.0,270.9 947.4,308.4 947.7,270.9 948.3,267.3 948.7,277.8 949.0,291.3 949.4,277.8 950.1,291.3 951.6,276.5 952.3,260.8 952.7,270.3 953.0,260.8 953.8,243.2 955.3,249.1 956.7,245.4 958.2,279.5 958.9,274.3 959.3,283.8 959.6,274.3 960.7,266.1 961.4,271.1 961.7,280.6 962.1,271.1 963.4,278.0 964.4,275.9 964.7,285.4 965.1,275.9 965.6,273.6 967.1,278.0 967.9,275.8 968.2,293.3 968.6,275.8 969.1,273.3 970.2,279.0 970.5,288.5 970.9,279.0 971.6,282.4 972.6,281.9 972.9,287.4 973.3,281.9 974.5,280.2 975.4,278.4 975.7,291.9 976.1,278.4 976.8,275.8 977.6,284.8 977.9,314.3 978.3,284.8 979.0,292.8 980.0,283.9 980.3,289.4 980.7,283.9 981.2,277.3 981.6,281.9 982.0,299.4 982.3,281.9 983.0,286.9 983.6,284.6 983.9,298.1 984.3,284.6 984.9,281.0 985.9,282.8 986.2,288.3 986.6,282.8 987.1,283.2 987.6,297.5 988.0,324.4 988.3,297.5 988.9,312.0 989.5,299.4 989.8,322.9 990.2,299.4 990.8,285.4 991.3,282.0 991.7,319.5 992.0,282.0 993.1,275.0 994.8,316.0 995.6,293.2 996.0,310.7 996.3,293.2 997.2,268.4 997.8,268.6 998.2,278.1 998.5,268.6 999.7,267.6 1000.8,273.8 1001.2,279.3 1001.5,273.8 1002.0,276.5 1002.9,271.8 1003.2,301.3 1003.6,271.8 1004.2,267.3 1005.2,269.8 1005.6,275.3 1005.9,269.8 1006.4,270.6 1006.8,272.2 1007.2,309.7 1007.5,272.2 1008.6,273.6 1010.1,270.6 1011.3,270.5 1011.7,276.0 1012.0,270.5 1013.1,269.4 1014.1,272.4 1014.4,281.9 1014.8,272.4 1016.1,275.0 1016.9,279.3 1017.2,296.8 1017.6,279.3 1018.3,282.4 1018.8,281.2 1019.1,286.7 1019.5,281.2 1020.5,278.0 1022.0,304.7 1023.4,278.8 1024.2,293.1 1024.5,302.6 1024.9,293.1 1025.2,300.6 1025.6,293.2 1026.0,316.7 1026.3,293.2 1027.1,281.6 1027.9,290.4 1028.2,307.9 1028.6,290.4 1029.3,297.8 1029.9,291.7 1030.3,324.4 1030.6,291.7 1031.5,282.9 1032.1,289.4 1032.4,298.9 1032.8,289.4 1033.4,295.1 1034.7,282.9 1036.3,272.1 1036.6,282.8 1036.9,300.3 1037.3,282.8 1038.0,300.6 1038.6,326.4 1041.2,326.4 1042.0,247.6 1043.4,246.3 1044.0,254.0 1044.4,259.5 1044.7,254.0 1045.6,262.6 1046.4,253.9 1046.8,283.4 1047.1,253.9 1047.5,247.6 1048.0,255.7 1048.4,285.2 1048.7,255.7 1049.6,265.3 1050.5,266.4 1050.8,283.9 1051.2,266.4 1052.3,266.6 1052.8,269.0 1053.2,286.5 1053.5,269.0 1054.2,270.7 1054.9,273.1 1055.2,278.6 1055.6,273.1 1056.4,274.8 1057.6,268.3 1057.9,291.8 1058.3,268.3 1059.1,262.6 1059.8,267.1 1060.2,276.6 1060.5,267.1 1061.3,270.7 1063.2,257.0 1063.5,229.0 1063.5,184.6 1065.8,184.0 1066.0,117.6 1067.5,119.0 1068.3,116.0 1068.8,96.0 1069.5,85.9 1070.3,96.0 1070.6,150.0 1070.6,221.0 1071.8,222.0 1071.9,326.4" fill="none" stroke="#7de398" stroke-width="1" stroke-linejoin="round"/></g>
<path d="M1063.3,326 L1063.3,184.6 1065.8,184 1066,117.6 1067.5,119 1068.3,116 1068.8,96 1069.5,85.9 1070.3,96 1070.6,150 1070.6,221 1071.8,222 1071.8,326 Z" fill="url(#sp)"/>
<path d="M266.8,326.4 L267.0,345.0 268.5,354.3 270.0,326.4 Z M306.1,326.4 L306.9,336.5 307.8,326.4 Z M357.6,326.4 L358.3,355.0 360.3,341.0 361.2,341.0 362.4,342.0 363.9,355.5 365.7,326.4 Z M367.2,326.4 L368.0,340.0 369.1,350.6 370.1,326.4 Z M376.7,326.4 L377.2,328.6 377.7,326.4 Z M395.9,326.4 L396.7,334.3 397.4,326.4 Z M401.1,326.4 L402.3,346.6 403.6,326.4 Z M410.5,326.4 L411.5,341.3 412.5,326.4 Z M414.0,326.4 L414.9,337.7 416.0,326.4 Z M528.0,326.4 L529.2,334.5 530.8,345.4 532.2,354.6 533.4,347.0 535.0,347.0 535.4,393.0 535.9,393.8 537.2,340.0 538.4,340.0 539.6,395.0 540.9,376.3 542.6,369.6 544.2,362.0 545.1,326.4 Z M548.1,326.4 L549.2,332.0 550.6,339.5 551.8,326.4 Z M558.9,326.4 L559.8,338.4 560.6,326.4 Z M564.4,326.4 L565.2,336.7 566.0,326.4 Z M568.1,326.4 L568.8,333.7 571.0,334.5 572.6,353.7 574.0,348.7 575.1,349.5 576.0,326.4 Z M579.0,326.4 L580.0,370.4 581.0,326.4 Z M583.0,326.4 L583.8,332.0 584.7,326.4 Z M586.0,326.4 L586.8,356.2 588.8,358.7 590.2,352.0 591.0,326.4 Z M593.5,326.4 L594.3,350.4 596.0,343.7 598.0,349.6 599.4,338.7 600.2,326.4 Z M603.2,326.4 L604.4,342.0 606.0,348.7 607.4,393.8 608.5,348.7 609.4,326.4 Z M611.0,326.4 L612.7,333.7 613.9,326.4 Z M615.6,326.4 L616.9,353.7 618.2,326.4 Z M618.9,326.4 L620.2,342.9 621.6,332.0 622.7,331.2 623.6,326.4 Z M655.8,326.4 L656.8,356.2 658.0,326.4 Z M660.0,326.4 L660.9,345.4 662.0,326.4 Z M663.0,326.4 L664.7,330.4 665.4,363.8 666.4,364.6 667.4,332.0 668.7,332.0 669.4,367.1 671.7,366.8 672.5,332.0 673.4,326.4 Z M675.0,326.4 L675.9,332.0 676.7,346.2 677.7,330.4 679.2,330.4 680.1,343.7 681.7,355.4 683.4,363.8 684.6,374.1 685.9,370.4 688.1,374.1 689.2,369.6 690.6,368.8 691.1,326.4 Z M692.8,326.4 L693.4,345.4 694.3,346.2 695.1,397.5 696.1,345.4 697.1,326.4 Z M698.4,326.4 L699.1,332.9 699.8,326.4 Z M711.0,326.4 L712.0,341.7 713.1,326.4 Z M722.0,326.4 L722.8,334.0 723.7,326.4 Z M732.7,326.4 L733.5,336.2 735.5,336.2 737.3,345.0 738.5,337.0 739.0,326.4 Z M746.0,326.4 L746.7,331.2 747.4,326.4 Z M758.6,326.4 L759.6,337.9 760.6,326.4 Z M769.4,326.4 L770.2,328.5 771.0,326.4 Z M773.3,326.4 L774.4,351.7 775.5,326.4 Z M854.5,326.4 L855.6,328.0 856.5,345.5 857.6,326.4 Z M859.3,326.4 L860.2,342.1 861.2,331.0 862.7,331.0 863.0,326.4 Z M874.1,326.4 L875.0,349.5 876.0,326.4 Z M879.6,326.4 L880.2,339.1 882.5,339.1 883.1,326.4 Z M894.2,326.4 L895.0,334.7 895.9,326.4 Z M1038.2,326.4 L1039.6,352.1 1041.2,326.4 Z" fill="#f23030" stroke="#f02828" stroke-width="0.9" stroke-linejoin="round"/>
<rect x="79" y="325.6" width="993" height="1.2" fill="#efe2b0" opacity="0.35"/>
<rect x="79" y="426.9" width="993" height="1.5" fill="#c9cde8"/>
<rect x="171.29999999999998" y="427" width="0.8" height="14.6" fill="#cfd2ea"/>
<rect x="335.8" y="427" width="0.8" height="14.6" fill="#cfd2ea"/>
<rect x="506.6" y="427" width="0.8" height="14.6" fill="#cfd2ea"/>
<rect x="676.3000000000001" y="427" width="0.8" height="14.6" fill="#cfd2ea"/>
<rect x="841.5" y="427" width="0.8" height="14.6" fill="#cfd2ea"/>
<rect x="1012.4" y="427" width="0.8" height="14.6" fill="#cfd2ea"/>
<g font-family="'Liberation Sans', sans-serif" font-size="16.2" fill="#303030">
<text x="56.4" y="27.8" text-anchor="end" textLength="37.8" lengthAdjust="spacingAndGlyphs">0.06</text>
<text x="55.9" y="129.9" text-anchor="end" textLength="37.2" lengthAdjust="spacingAndGlyphs">0.04</text>
<text x="55.9" y="230.8" text-anchor="end" textLength="37.2" lengthAdjust="spacingAndGlyphs">0.02</text>
<text x="56.9" y="332.9" text-anchor="end" textLength="11.2" lengthAdjust="spacingAndGlyphs">0</text>
<text x="56.2" y="433.1" text-anchor="end" textLength="47.4" lengthAdjust="spacingAndGlyphs">−0.02</text>
<text x="172.0" y="455.6" text-anchor="middle" textLength="60.4" lengthAdjust="spacingAndGlyphs">Jun '24</text>
<text x="336.5" y="455.6" text-anchor="middle" textLength="53.4" lengthAdjust="spacingAndGlyphs">Jul '24</text>
<text x="507.3" y="455.6" text-anchor="middle" textLength="63.9" lengthAdjust="spacingAndGlyphs">Aug '24</text>
<text x="677.0" y="455.6" text-anchor="middle" textLength="61.4" lengthAdjust="spacingAndGlyphs">Sep '24</text>
<text x="842.1999999999999" y="455.6" text-anchor="middle" textLength="59.9" lengthAdjust="spacingAndGlyphs">Oct '24</text>
<text x="1013.0999999999999" y="455.6" text-anchor="middle" textLength="63.0" lengthAdjust="spacingAndGlyphs">Nov '24</text>
</g></svg>
</body></html>
